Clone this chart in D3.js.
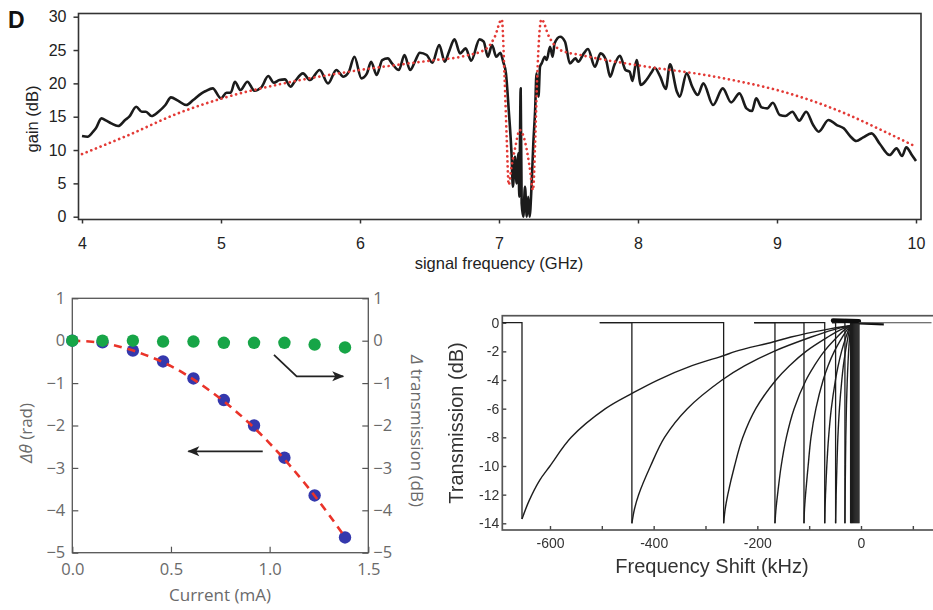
<!DOCTYPE html>
<html>
<head>
<meta charset="utf-8">
<script src="https://cdn.jsdelivr.net/npm/d3@7"></script>
<style>
  body { margin: 0; background: #fff; }
  svg { display: block; }
</style>
</head>
<body>
<svg id="fig" width="933" height="610"></svg>
<script>
// ---------- Panel D (top): measured gain and model vs signal frequency ----------
const gainFreq = [4.00,4.04,4.08,4.10,4.14,4.175,4.21,4.26,4.31,4.34,4.39,4.43,4.46,4.50,4.55,4.60,4.64,4.69,4.75,4.80,
  4.86,4.89,4.94,5.00,5.04,5.07,5.10,5.14,5.19,5.24,5.29,5.34,5.38,5.42,5.46,5.50,5.53,5.59,5.64,5.71,
  5.77,5.83,5.88,5.92,5.96,6.01,6.05,6.08,6.12,6.16,6.20,6.23,6.28,6.32,6.36,6.40,6.43,6.48,6.52,6.57,
  6.61,6.64,6.68,6.72,6.76,6.80,6.86,6.89,6.92,6.95,6.98,7.01,7.03,7.05,7.07,7.09,7.10,7.115,7.127,7.14,
  7.146,7.156,7.163,7.175,7.187,7.20,7.21,7.22,7.235,7.247,7.26,7.27,7.284,7.295,7.307,7.33,7.343,7.367,7.386,7.40,
  7.44,7.475,7.51,7.55,7.57,7.61,7.64,7.69,7.73,7.77,7.80,7.83,7.87,7.91,7.94,7.96,7.99,8.02,8.06,8.10,
  8.12,8.16,8.20,8.23,8.28,8.30,8.35,8.39,8.43,8.47,8.54,8.61,8.67,8.73,8.78,8.82,8.85,8.89,8.93,8.97,
  9.02,9.06,9.11,9.16,9.21,9.26,9.30,9.37,9.43,9.48,9.53,9.57,9.62,9.68,9.74,9.81,9.86,9.90,9.93,9.97,10.0];
const gainDb = [12.1,12.0,12.75,13.25,14.75,14.4,14.0,13.6,14.5,15.0,16.5,15.75,15.75,15.1,15.75,16.75,17.9,17.4,16.75,17.5,
  18.5,18.85,19.25,17.75,18.6,18.6,20.25,19.0,20.25,18.9,19.4,21.1,20.1,20.5,20.6,19.5,20.25,21.5,20.5,22.0,
  20.0,22.0,21.0,21.75,24.0,20.75,21.5,23.25,21.25,23.5,23.75,23.0,22.0,24.25,22.0,23.5,24.6,24.25,23.1,25.75,
  23.25,24.75,26.6,24.5,25.25,23.4,26.6,26.25,24.0,25.75,24.0,24.6,23.25,21.5,16.0,9.5,4.5,9.0,5.0,9.5,
  3.0,19.25,2.0,0,4.5,0,3.0,0,5.0,11.0,16.0,21.5,18.0,22.5,23.0,24.0,23.5,25.5,24.0,26.0,
  27.0,26.25,23.0,23.75,23.25,24.5,25.15,22.5,24.5,23.5,21.0,22.75,24.15,22.0,21.75,20.35,23.5,19.75,20.5,21.75,
  22.35,21.0,19.15,22.85,18.75,18.0,21.5,19.5,18.25,20.0,16.75,19.25,17.15,18.5,16.25,15.85,17.75,16.4,16.25,17.1,
  15.25,15.1,15.75,14.4,15.75,13.75,12.75,14.5,13.75,13.25,12.0,11.35,11.9,12.5,10.9,9.25,10.25,9.1,10.4,9.25,8.35];
const modelFreq = [4.0,4.33,4.69,5.0,5.5,6.0,6.5,6.75,6.91,6.97,7.02,7.04,7.055,7.07,7.09,7.115,7.15,7.19,7.22,7.245,
  7.26,7.275,7.305,7.36,7.44,7.6,8.0,8.5,8.75,9.0,9.25,9.5,9.75,10.0];
const modelDb = [9.4,12.2,15.5,17.7,20.2,22.0,23.4,24.1,25.2,27.0,29.6,21.0,12.0,4.8,7.5,10.2,13.0,11.0,7.5,4.0,
  11.0,21.0,29.6,27.0,25.0,24.2,22.7,21.2,20.2,19.0,17.4,15.4,13.0,10.5];
const gainXTicks = [4, 5, 6, 7, 8, 9, 10];
const gainYTicks = [0, 5, 10, 15, 20, 25, 30];

// ---------- Bottom left: phase shift and transmission change vs current ----------
const currentMa = [0, 0.153, 0.307, 0.46, 0.614, 0.768, 0.921, 1.075, 1.228, 1.382];
const phaseRad  = [0, -0.04, -0.235, -0.49, -0.89, -1.40, -2.0, -2.76, -3.65, -4.64];
const transDb   = [0, 0, 0, -0.02, -0.02, -0.05, -0.05, -0.05, -0.09, -0.16];
const fitCurrent = [0, 0.1, 0.2, 0.3, 0.4, 0.5, 0.6, 0.7, 0.8, 0.9, 1.0, 1.1, 1.2, 1.3, 1.38];
const fitPhase   = [0, -0.024, -0.097, -0.22, -0.39, -0.6, -0.87, -1.19, -1.55, -1.96, -2.42, -2.93, -3.49, -4.1, -4.62];
const currentTicks = [0, 0.5, 1.0, 1.5];
const radTicks = [1, 0, -1, -2, -3, -4, -5];

// ---------- Bottom right: transmission sweeps vs frequency shift ----------
const sweepStart = [-692, -504, -504, -206, -206, -206, -56, -56];
const sweepDrop  = [-654, -442, -265, -166, -110, -70, -49, -31];
const sweepFloor = [-13.7, -14, -14, -14, -14, -14, -14, -14];
const sweep1 = [[-654,-13.7],[-640,-12.4],[-620,-11.0],[-600,-10.0],[-559,-8],[-493,-6],[-440,-4.9],[-392,-4],[-326,-3],[-265,-2.3],[-242,-2],[-170,-1.35],[-135,-1],[-70,-0.5],[-20,-0.2]];
const sweep2 = [[-442,-14],[-437,-13],[-429,-12],[-406,-10],[-379,-8],[-335,-6],[-268,-4],[-224,-3],[-168,-2],[-96,-1],[-54,-0.5],[-20,-0.2]];
const sweep3 = [[-265,-14],[-262,-13],[-257,-12],[-244,-10],[-228,-8],[-203,-6],[-164,-4],[-138,-3],[-106,-2],[-64,-1],[-40,-0.5],[-20,-0.2]];
const sweep4 = [[-166,-14],[-164,-13],[-161,-12],[-154,-10],[-144,-8],[-129,-6],[-106,-4],[-90,-3],[-71,-2],[-46,-1],[-32,-0.5],[-20,-0.2]];
const sweep5 = [[-110,-14],[-109,-13],[-107,-12],[-102,-10],[-96.5,-8],[-87,-6],[-73,-4],[-63.5,-3],[-51.5,-2],[-36,-1],[-27,-0.5],[-20,-0.2]];
const sweep6 = [[-70,-14],[-69.4,-13],[-68.5,-12],[-66,-10],[-62.5,-8],[-57.3,-6],[-49.3,-4],[-44,-3],[-37.5,-2],[-29,-1],[-24,-0.5],[-20,-0.2]];
const sweep7 = [[-49,-14],[-48,-12],[-46.5,-10],[-44.6,-8],[-41.6,-6],[-37,-4],[-34,-3],[-30,-2],[-25.2,-1],[-22.4,-0.5],[-20,-0.2]];
const sweep8 = [[-31,-14],[-30.6,-12],[-30,-10],[-29.3,-8],[-28.2,-6],[-26.5,-4],[-25.3,-3],[-23.9,-2],[-22,-1],[-20.9,-0.5],[-20,-0.2]];
const sweepCurves = [sweep1, sweep2, sweep3, sweep4, sweep5, sweep6, sweep7, sweep8];
const bandDrops = [-20, -18, -16, -14, -12, -10, -8, -6, -4];
const shiftTicks = [-600, -500, -400, -300, -200, -100, 0, 100];
const shiftLabels = [-600, -400, -200, 0];
const transTicks = [0, -2, -4, -6, -8, -10, -12, -14];

const svg = d3.select("#fig");
const defs = svg.append("defs");
defs.append("filter").attr("id", "soft")
  .append("feGaussianBlur").attr("stdDeviation", 0.45);
defs.append("marker")
  .attr("id", "head").attr("viewBox", "-1 -6 14 12")
  .attr("markerUnits", "userSpaceOnUse")
  .attr("markerWidth", 14).attr("markerHeight", 12)
  .attr("refX", 11).attr("refY", 0).attr("orient", "auto")
  .append("path").attr("d", "M0,-5 L12,0 L0,5 L3,0 Z").attr("fill", "#222");

// ===== top panel =====
const gx = d3.scaleLinear().domain([4, 10]).range([82, 916]);
const gy = d3.scaleLinear().domain([0, 30]).range([216.7, 16.7]);
const topG = svg.append("g").attr("font-family", "'Liberation Sans', Arial, sans-serif");

topG.append("text").attr("x", 8).attr("y", 28.3)
  .attr("font-size", 23).attr("font-weight", "bold").attr("fill", "#111").text("D");

const gyAxis = topG.append("g").attr("transform", "translate(78.5,0)")
  .call(d3.axisLeft(gy).tickValues(gainYTicks).tickSize(5).tickPadding(7));
const gxAxis = topG.append("g").attr("transform", "translate(0,219.5)")
  .call(d3.axisBottom(gx).tickValues(gainXTicks).tickFormat(d3.format("d")).tickSize(4).tickPadding(14));
[gyAxis, gxAxis].forEach(a => {
  a.select(".domain").remove();
  a.selectAll("line").attr("stroke", "#333").attr("stroke-width", 1.5);
  a.selectAll("text").attr("font-size", 16).attr("fill", "#222").attr("font-family", "'Liberation Sans', Arial, sans-serif");
});

topG.append("rect").attr("x", 78.5).attr("y", 13.5).attr("width", 842.5).attr("height", 206)
  .attr("fill", "none").attr("stroke", "#333").attr("stroke-width", 1.6);

const gainLine = d3.line().x(d => gx(d[0])).y(d => gy(d[1])).curve(d3.curveMonotoneX);
topG.append("path").datum(gainFreq.map((f, i) => [f, gainDb[i]]))
  .attr("d", gainLine).attr("fill", "none").attr("stroke", "#1b1b1b")
  .attr("stroke-width", 2.6).attr("stroke-linejoin", "round");
topG.append("path").datum(modelFreq.map((f, i) => [f, modelDb[i]]))
  .attr("d", gainLine).attr("fill", "none").attr("stroke", "#e33a36")
  .attr("stroke-width", 2.7).attr("stroke-linecap", "round").attr("stroke-dasharray", "0.01 5");

topG.append("text").attr("x", 499).attr("y", 269).attr("text-anchor", "middle")
  .attr("font-size", 16.5).attr("fill", "#222").text("signal frequency (GHz)");
topG.append("text").attr("transform", "translate(38,119) rotate(-90)").attr("text-anchor", "middle")
  .attr("font-size", 16.5).attr("fill", "#222").text("gain (dB)");

// ===== bottom-left panel =====
const cx = d3.scaleLinear().domain([0, 1.5]).range([72.3, 368.3]);
const cy = d3.scaleLinear().domain([-5, 1]).range([552.7, 298.3]);
const blG = svg.append("g").attr("font-family", "'Open Sans', 'Noto Sans', sans-serif");

const blAxes = [
  blG.append("g").attr("transform", "translate(72.3,0)")
    .call(d3.axisLeft(cy).tickValues(radTicks).tickFormat(d3.format("d")).tickSize(-6).tickPadding(7)),
  blG.append("g").attr("transform", "translate(368.3,0)")
    .call(d3.axisRight(cy).tickValues(radTicks).tickFormat(d3.format("d")).tickSize(-6).tickPadding(5)),
  blG.append("g").attr("transform", "translate(0,552.7)")
    .call(d3.axisBottom(cx).tickValues(currentTicks).tickFormat(d3.format(".1f")).tickSize(-6).tickPadding(11))
];
blAxes.forEach(a => {
  a.select(".domain").remove();
  a.selectAll("line").attr("stroke", "#555").attr("stroke-width", 1.2);
  a.selectAll("text").attr("font-size", 16.5).attr("fill", "#6a6a6a").attr("font-family", "'Open Sans', 'Noto Sans', sans-serif");
});
blG.append("rect").attr("x", 72.3).attr("y", 298.3).attr("width", 296).attr("height", 254.4)
  .attr("fill", "none").attr("stroke", "#555").attr("stroke-width", 1.3);

blG.selectAll("circle.phase").data(currentMa.map((c, i) => [c, phaseRad[i]])).join("circle")
  .attr("class", "phase").attr("cx", d => cx(d[0])).attr("cy", d => cy(d[1])).attr("r", 6.2)
  .attr("fill", "#3438ad");
blG.append("path").datum(fitCurrent.map((c, i) => [c, fitPhase[i]]))
  .attr("d", d3.line().x(d => cx(d[0])).y(d => cy(d[1])).curve(d3.curveMonotoneX))
  .attr("fill", "none").attr("stroke", "#ea3329").attr("stroke-width", 2.6).attr("stroke-dasharray", "8 6");
blG.selectAll("circle.trans").data(currentMa.map((c, i) => [c, transDb[i]])).join("circle")
  .attr("class", "trans").attr("cx", d => cx(d[0])).attr("cy", d => cy(d[1])).attr("r", 6.2)
  .attr("fill", "#17a547");

// arrows pointing to the axis each series belongs to
const arrowLine = d3.line().x(d => cx(d[0])).y(d => cy(d[1]));
blG.append("path").datum([[1.022, -0.336], [1.137, -0.84], [1.373, -0.84]])
  .attr("d", arrowLine).attr("fill", "none").attr("stroke", "#222").attr("stroke-width", 1.8)
  .attr("marker-end", "url(#head)");
blG.append("path").datum([[0.965, -2.61], [0.588, -2.61]])
  .attr("d", arrowLine).attr("fill", "none").attr("stroke", "#222").attr("stroke-width", 1.8)
  .attr("marker-end", "url(#head)");

blG.append("text").attr("x", 220).attr("y", 601).attr("text-anchor", "middle")
  .attr("font-size", 17).attr("fill", "#6a6a6a").text("Current (mA)");
const thetaLabel = blG.append("text").attr("transform", "translate(32,433) rotate(-90)")
  .attr("text-anchor", "middle").attr("font-size", 17).attr("fill", "#6a6a6a");
thetaLabel.append("tspan").attr("font-style", "italic").text("Δθ");
thetaLabel.append("tspan").text(" (rad)");
const dtLabel = blG.append("text").attr("transform", "translate(411,431) rotate(90)")
  .attr("text-anchor", "middle").attr("font-size", 17).attr("fill", "#6a6a6a");
dtLabel.append("tspan").attr("font-style", "italic").text("Δ");
dtLabel.append("tspan").text(" transmission (dB)");

// ===== bottom-right panel =====
const sx = d3.scaleLinear().domain([-692, 136]).range([502.3, 931.5]);
const sy = d3.scaleLinear().domain([-14, 0]).range([523.3, 322.7]);
const brG = svg.append("g").attr("font-family", "'Liberation Sans', Arial, sans-serif")
  .attr("filter", "url(#soft)");

const brY = brG.append("g").attr("transform", "translate(502.3,0)")
  .call(d3.axisLeft(sy).tickValues(transTicks).tickFormat(d => String(d)).tickSize(-4).tickPadding(3));
const brX = brG.append("g").attr("transform", "translate(0,530)")
  .call(d3.axisBottom(sx).tickValues(shiftTicks)
    .tickFormat(d => shiftLabels.includes(d) ? String(d) : "")
    .tickSize(-4).tickPadding(8));
[brY, brX].forEach(a => {
  a.select(".domain").remove();
  a.selectAll("line").attr("stroke", "#444").attr("stroke-width", 1.4);
  a.selectAll("text").attr("font-size", 14).attr("fill", "#333").attr("font-family", "'Liberation Sans', Arial, sans-serif");
});

brG.append("rect").attr("x", 502.3).attr("y", 315.7).attr("width", 440).attr("height", 214.3)
  .attr("fill", "none").attr("stroke", "#555").attr("stroke-width", 1.7);

const sweepLine = d3.line().x(d => sx(d[0])).y(d => sy(d[1]));
const sweepCurve = d3.line().x(d => sx(d[0])).y(d => sy(d[1])).curve(d3.curveCatmullRom.alpha(0.5));
const ink = "#1e1e1e";
sweepCurves.forEach((pts, i) => {
  // flat top, sudden drop, then the dragged resonance returning towards zero shift
  brG.append("path").datum([[sweepStart[i], 0], [sweepDrop[i], 0], [sweepDrop[i], sweepFloor[i]]])
    .attr("d", sweepLine).attr("fill", "none").attr("stroke", ink).attr("stroke-width", 1.3);
  brG.append("path").datum(pts)
    .attr("d", sweepCurve).attr("fill", "none").attr("stroke", ink).attr("stroke-width", 1.4);
});
bandDrops.forEach(f => {
  brG.append("path").datum([[f, 0], [f, -14]])
    .attr("d", sweepLine).attr("fill", "none").attr("stroke", ink).attr("stroke-width", 1.4);
});
brG.append("path").datum([[-54, 0.15], [-4, 0.1]])
  .attr("d", sweepLine).attr("fill", "none").attr("stroke", "#111").attr("stroke-width", 4.5)
  .attr("stroke-linecap", "round");
brG.append("path").datum([[-4, -0.05], [44, -0.12]])
  .attr("d", sweepLine).attr("fill", "none").attr("stroke", "#111").attr("stroke-width", 2.2);
brG.append("path").datum([[-4, 0], [136, 0]])
  .attr("d", sweepLine).attr("fill", "none").attr("stroke", "#444").attr("stroke-width", 1.1);

brG.append("text").attr("x", 712).attr("y", 573).attr("text-anchor", "middle")
  .attr("font-size", 20).attr("fill", "#333").text("Frequency Shift (kHz)");
brG.append("text").attr("transform", "translate(463,423) rotate(-90)").attr("text-anchor", "middle")
  .attr("font-size", 20).attr("fill", "#333").text("Transmission (dB)");
</script>
</body>
</html>
